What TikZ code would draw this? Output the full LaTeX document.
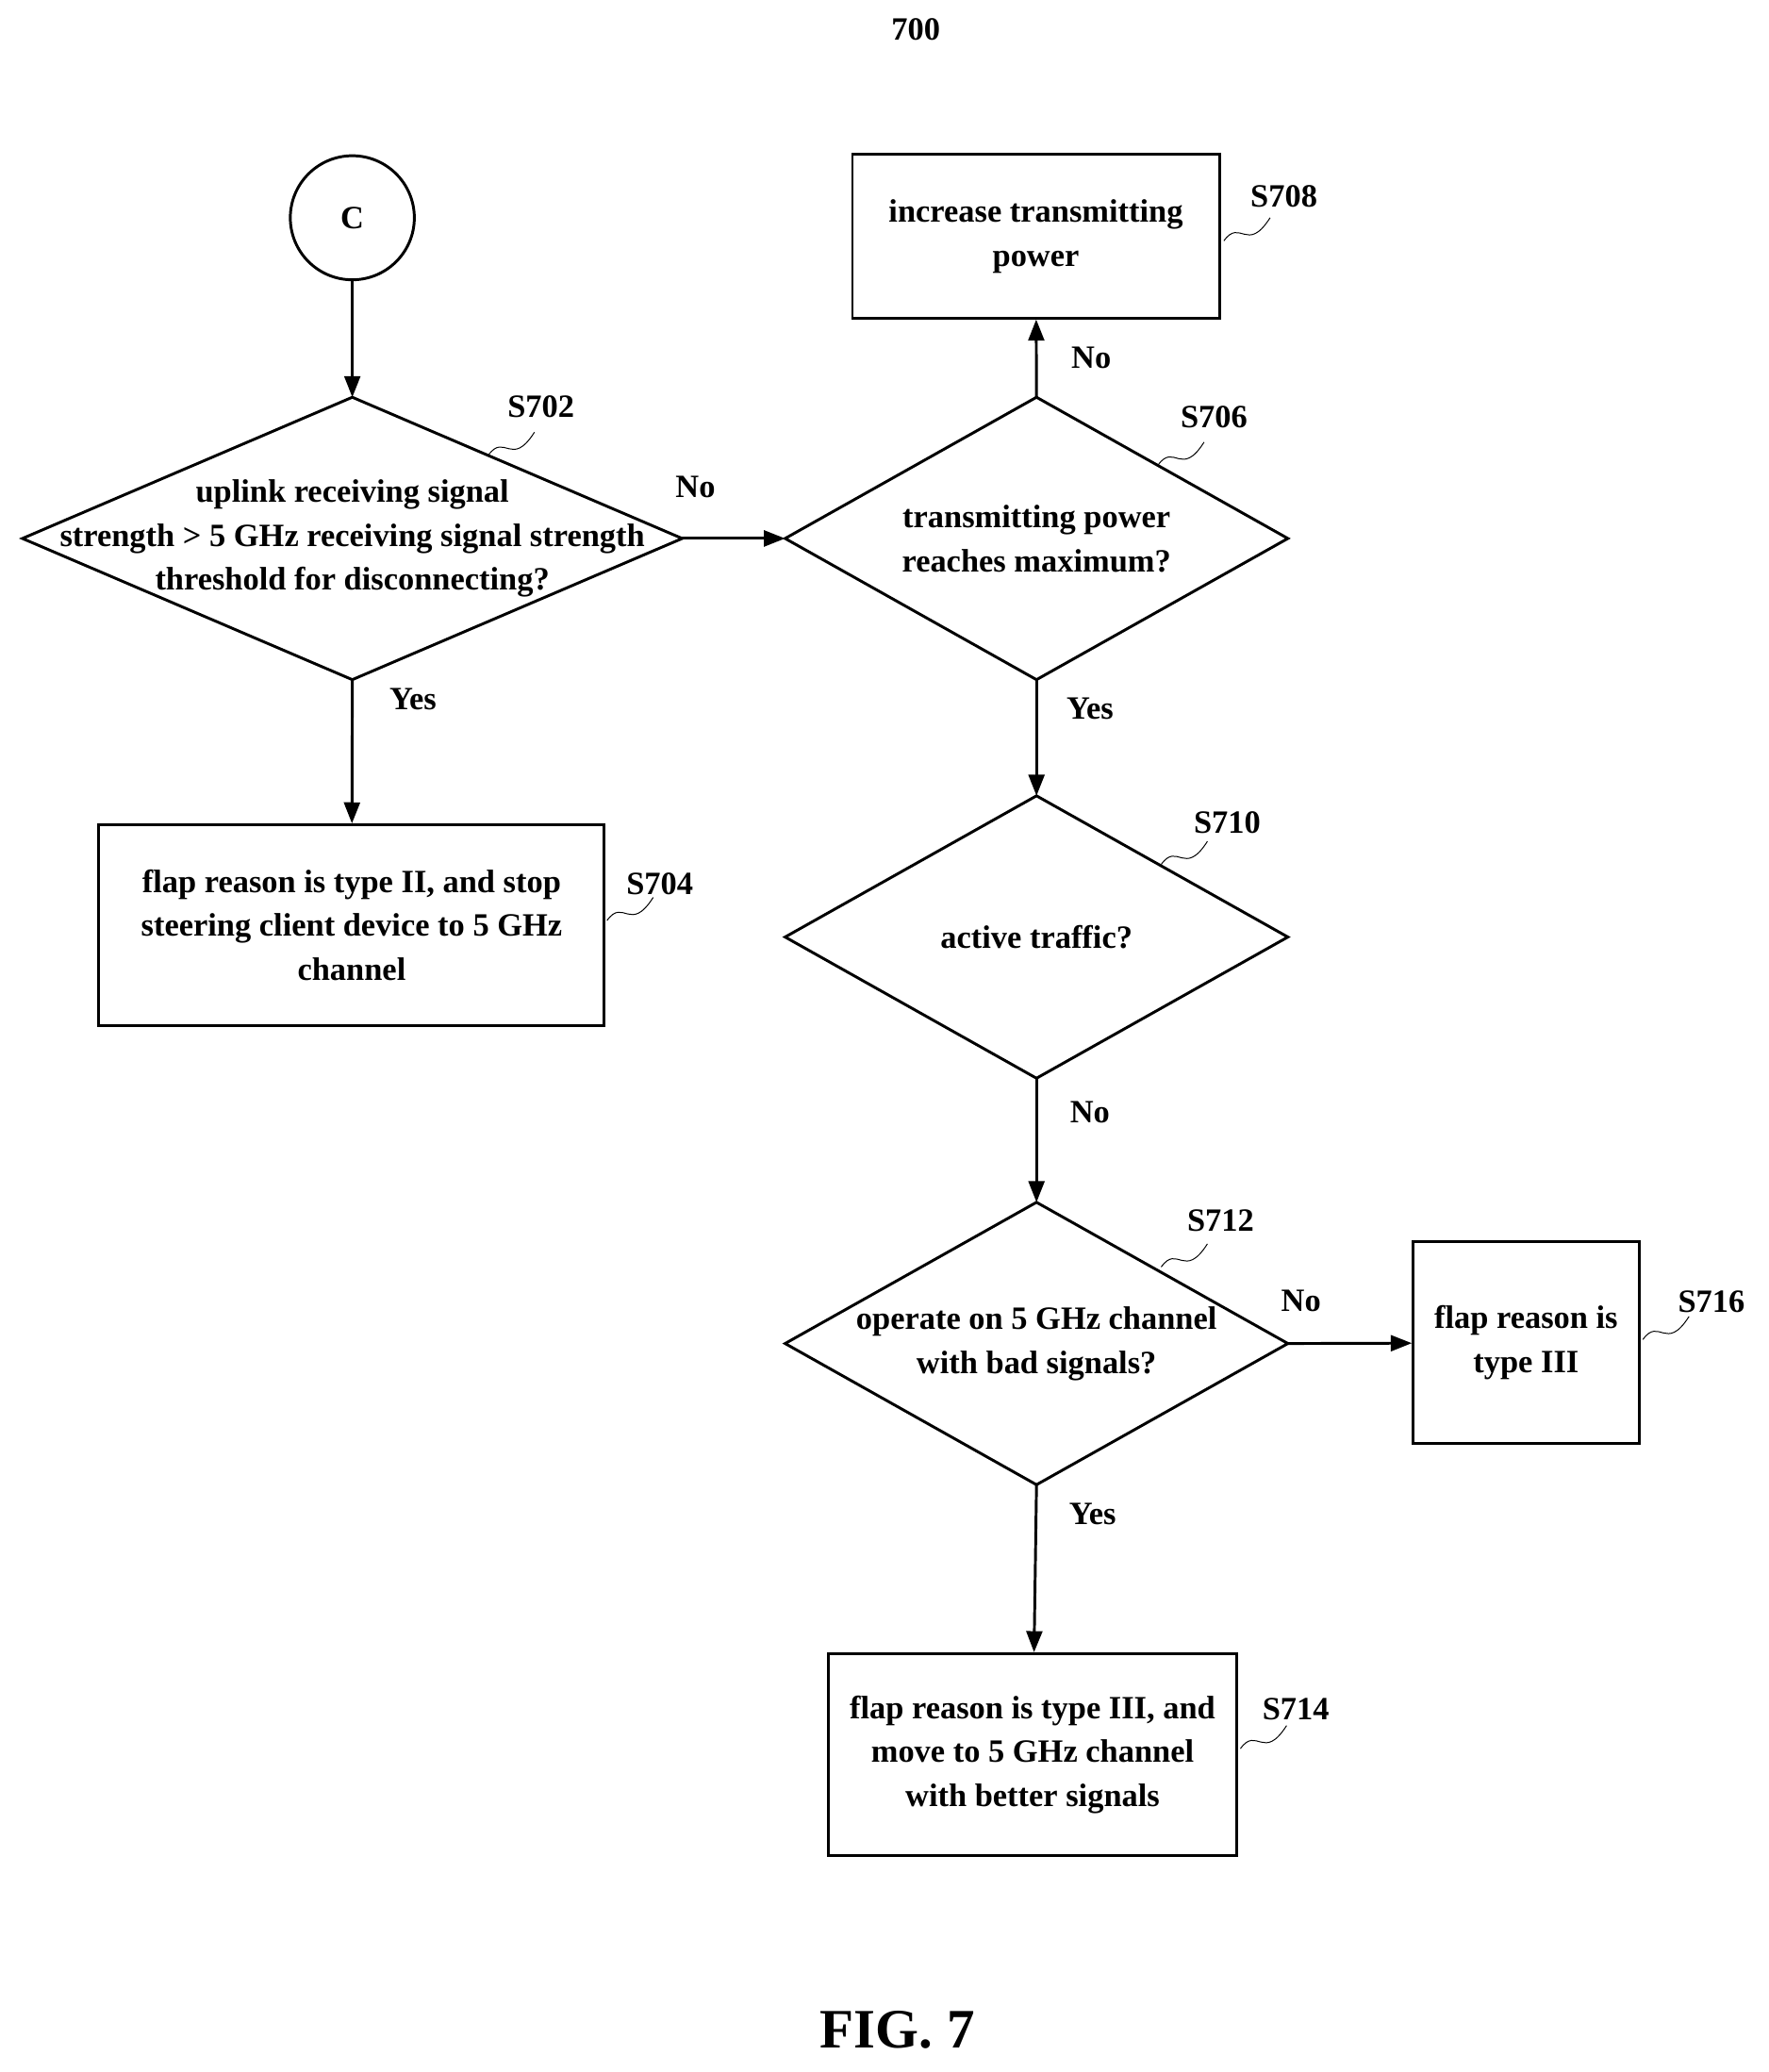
\documentclass[tikz,border=0pt]{standalone}
\usepackage{fontspec}
\setmainfont{Liberation Serif}
\usetikzlibrary{positioning,arrows.meta}

% diamond drawn around a text node, with anchors name-n/-s/-e/-w
\newcommand{\decision}[6]{%
  \node[txt] (#1) at (#2,#3) {#6};
  \coordinate (#1-n) at ($(#1.center)+(0,#5)$);
  \coordinate (#1-s) at ($(#1.center)+(0,-#5)$);
  \coordinate (#1-e) at ($(#1.center)+(#4,0)$);
  \coordinate (#1-w) at ($(#1.center)+(-#4,0)$);
  \draw[line width=1.2pt] (#1-n) -- (#1-e) -- (#1-s) -- (#1-w) -- cycle;}
% step tag with squiggle
\newcommand{\steptag}[5]{%
  \node[txt] (#1) at (#2,#3) {#1};
  \coordinate (#1-a) at (#4,#5);
  \draw[thin] (#1-a) .. controls ($(#1-a)+(0.25,0.35)$) and ($(#1-a)+(0.35,-0.2)$) .. ($(#1-a)+(0.7,0.35)$);}
\usetikzlibrary{calc}

\begin{document}
\begin{tikzpicture}[
    txt/.style={font=\fontsize{14}{19}\selectfont\bfseries, align=center, inner sep=1pt},
    box/.style={draw, line width=1.2pt, txt, inner sep=0pt},
    arr/.style={-{Triangle[length=3.2mm,width=2.4mm]}, line width=1.2pt},
  ]
  \useasboundingbox (0,0) rectangle (26.8,-31.4);
  %Nodes
  \node[txt] (fig) at (13.88,-0.44) {700};
  \node[draw, circle, line width=1.2pt, minimum size=1.88cm, txt] (start) at (5.34,-3.3) {C};
  \decision{d702}{5.34}{-8.16}{5.0}{2.14}{uplink receiving signal\\strength > 5 GHz receiving signal strength\\threshold for disconnecting?}
  \node[box, minimum width=7.66cm, minimum height=3.04cm] (s704) at (5.33,-14.02) {flap reason is type II, and stop\\steering client device to 5 GHz\\channel};
  \decision{d706}{15.71}{-8.16}{3.81}{2.14}{transmitting power\\reaches maximum?}
  \node[box, minimum width=5.56cm, minimum height=2.48cm] (s708) at (15.7,-3.58) {increase transmitting\\power};
  \decision{d710}{15.71}{-14.2}{3.81}{2.14}{active traffic?}
  \decision{d712}{15.71}{-20.36}{3.81}{2.14}{operate on 5 GHz channel\\with bad signals?}
  \node[box, minimum width=3.42cm, minimum height=3.06cm] (s716) at (23.13,-20.35) {flap reason is\\type III};
  \node[box, minimum width=6.18cm, minimum height=3.06cm] (s714) at (15.65,-26.59) {flap reason is type III, and\\move to 5 GHz channel\\with better signals};
  \node[font=\fontsize{24}{28}\selectfont\bfseries] (fig7) at (13.6,-30.76) {FIG. 7};

  %Tags
  \steptag{S702}{8.2}{-6.16}{7.4}{-6.9}
  \steptag{S704}{10.0}{-13.4}{9.2}{-13.95}
  \steptag{S706}{18.4}{-6.32}{17.55}{-7.05}
  \steptag{S708}{19.46}{-2.98}{18.55}{-3.65}
  \steptag{S710}{18.6}{-12.46}{17.6}{-13.1}
  \steptag{S712}{18.5}{-18.5}{17.6}{-19.2}
  \steptag{S716}{25.94}{-19.72}{24.9}{-20.3}
  \steptag{S714}{19.64}{-25.9}{18.8}{-26.5}

  %Lines
  \draw[arr] (start) -- (d702-n);
  \draw[arr] (d702-s) -- (s704);
  \draw[arr] (d702-e) -- (d706-w);
  \draw[arr] (d706-n) -- (s708);
  \draw[arr] (d706-s) -- (d710-n);
  \draw[arr] (d710-s) -- (d712-n);
  \draw[arr] (d712-e) -- (s716);
  \draw[arr] (d712-s) -- (s714);

  %Labels
  \node[txt] (l1) at (10.54,-7.38) {No};
  \node[txt] (l2) at (6.26,-10.6) {Yes};
  \node[txt] (l3) at (16.54,-5.42) {No};
  \node[txt] (l4) at (16.52,-10.74) {Yes};
  \node[txt] (l5) at (16.52,-16.86) {No};
  \node[txt] (l6) at (19.72,-19.72) {No};
  \node[txt] (l7) at (16.56,-22.94) {Yes};
\end{tikzpicture}
\end{document}
